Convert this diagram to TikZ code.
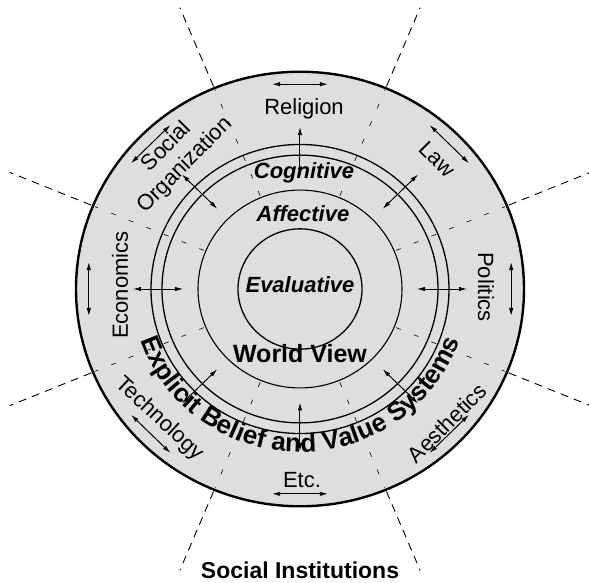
\documentclass[tikz,border=0pt]{standalone}
\usepackage{fontspec}
\setmainfont{Liberation Sans}
\usetikzlibrary{arrows.meta, decorations.text}

\tikzset{
  ring/.style={draw, line width=1.3pt},
  sector/.style={font=\fontsize{22}{26}\selectfont, inner sep=0pt, align=center},
  layer/.style={font=\fontsize{22}{24}\selectfont\bfseries\itshape, inner sep=0pt},
  twoway/.style={{Latex[length=8pt,width=4.5pt]}-{Latex[length=8pt,width=4.5pt]}, line width=1pt},
  divider/.style={dash pattern=on 8pt off 6pt, line width=0.9pt},
  faint divider/.style={dash pattern=on 5pt off 14pt, line width=0.6pt},
}

\begin{document}
\begin{tikzpicture}[x=1pt, y=0.97pt]
\useasboundingbox (-300pt,-293pt) rectangle (289pt,289pt);

% shaded disc
\fill[black!13] (0,0) circle (224);

% institution boundaries
\foreach \a in {22.5,67.5,...,337.5} {
  \draw[divider] (\a:226) -- (\a:314);
  \draw[faint divider] (\a:104) -- (\a:222);
}

% rings
\draw[line width=2.4pt] (0,0) circle (224);
\draw[ring] (0,0) circle (149);
\draw[ring] (0,0) circle (138);
\draw[line width=1.1pt] (0,0) circle (102);
\draw[ring] (0,0) circle (62);

% arrows across the double ring and along the outer ring
\foreach \a in {0,45,...,315} {
  \coordinate (in-\a) at (\a:117);
  \coordinate (out-\a) at (\a:167);
  \coordinate (left-\a) at (\a-7.5:213);
  \coordinate (right-\a) at (\a+7.5:213);
  \draw[twoway] (in-\a) -- (out-\a);
  \draw[twoway] (left-\a) -- (right-\a);
}

% social institutions
\node[sector] (religion) at (4,186) {Religion};
\node[sector, rotate=-45] (law) at (137,134) {Law};
\node[sector, rotate=-90] (politics) at (186,2) {Politics};
\node[sector, rotate=45] (aesthetics) at (147,-138) {Aesthetics};
\node[sector] (etc) at (2,-197) {Etc.};
\node[sector, rotate=-43] (technology) at (-141,-134) {Technology};
\node[sector, rotate=90] (economics) at (-180,4) {Economics};
\node[sector, rotate=45] (socorg) at (-124,137) {Social\\Organization};

% world view layers
\node[layer] (cognitive) at (4,120) {Cognitive};
\node[layer] (affective) at (3,78) {Affective};
\node[layer] (evaluative) at (0,4) {Evaluative};
\node[font=\fontsize{25}{28}\selectfont\bfseries, inner sep=0pt] (worldview) at (0,-67) {World View};

% explicit systems, along the ring
\path[decorate, decoration={text along path, text align=center,
  text={|\fontsize{26}{28}\selectfont\bfseries|Explicit Belief and Value Systems}}]
  (199:168) arc[start angle=199, end angle=341, radius=168];

\node[font=\fontsize{23}{26}\selectfont\bfseries, inner sep=0pt] (title) at (0,-290) {Social Institutions};
\end{tikzpicture}
\end{document}
